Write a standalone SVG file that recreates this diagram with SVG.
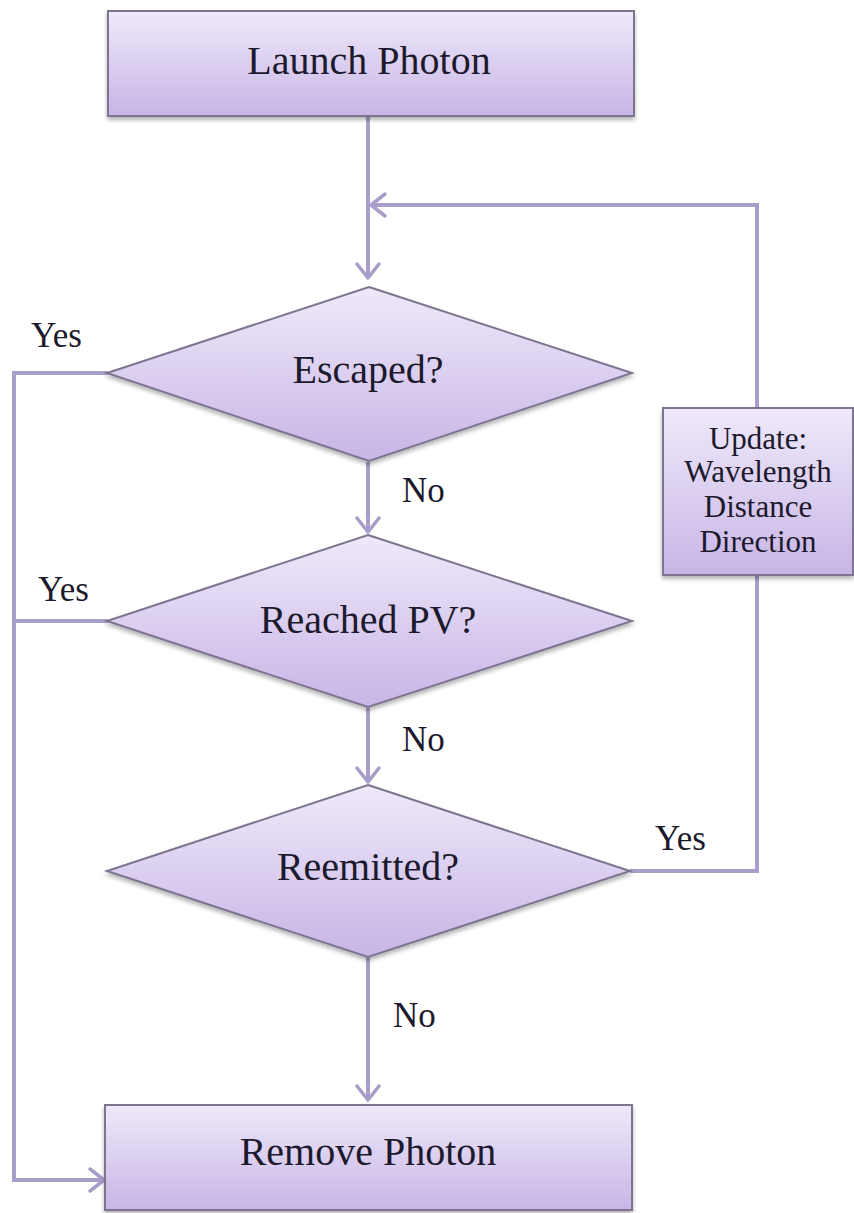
<svg xmlns="http://www.w3.org/2000/svg" width="854" height="1213" viewBox="0 0 854 1213">
<defs>
<linearGradient id="g" x1="0" y1="0" x2="0" y2="1">
<stop offset="0" stop-color="#efe9fa"/>
<stop offset="1" stop-color="#c8b5e6"/>
</linearGradient>
<filter id="sh" x="-5%" y="-5%" width="110%" height="115%">
<feGaussianBlur in="SourceAlpha" stdDeviation="2"/>
<feOffset dx="0" dy="3" result="b"/>
<feComponentTransfer><feFuncA type="linear" slope="0.3"/></feComponentTransfer>
<feMerge><feMergeNode/><feMergeNode in="SourceGraphic"/></feMerge>
</filter>
<marker id="ah" viewBox="0 0 16 24" refX="15" refY="12" markerWidth="16" markerHeight="24" markerUnits="userSpaceOnUse" orient="auto" overflow="visible">
<path d="M1,1 L15,12 L1,23" fill="none" stroke="#a99dc9" stroke-width="3.5" stroke-linecap="round" stroke-linejoin="round"/>
</marker>
</defs>
<style>
.n{fill:url(#g);stroke:#7d7490;stroke-width:2;filter:url(#sh)}
.c{fill:none;stroke:#a99dc9;stroke-width:4}
.t{font-family:"Liberation Serif",serif;font-size:40px;fill:#1c1a2c;text-anchor:middle}
.s{font-family:"Liberation Serif",serif;font-size:31px;fill:#1c1a2c;text-anchor:middle}
.l{font-family:"Liberation Serif",serif;font-size:35px;fill:#1c1a2c}
</style>
<g id="connectors">
<path class="c" d="M368,116 V278" marker-end="url(#ah)"/>
<path class="c" d="M757,408 V205 H371" marker-end="url(#ah)"/>
<path class="c" d="M368,462 V532" marker-end="url(#ah)"/>
<path class="c" d="M368,708 V782" marker-end="url(#ah)"/>
<path class="c" d="M368,957 V1100" marker-end="url(#ah)"/>
<path class="c" d="M630,871 H757 V575"/>
<path class="c" d="M108,373 H14 V1180 H104" marker-end="url(#ah)"/>
<path class="c" d="M108,621 H14"/>
</g>
<g id="launch">
<rect class="n" x="108" y="11" width="526" height="105"/>
<text class="t" x="369" y="74">Launch Photon</text>
</g>
<g id="escaped">
<polygon class="n" points="369,287 632,373 369,461 107,373"/>
<text class="t" x="368" y="383">Escaped?</text>
</g>
<g id="reached">
<polygon class="n" points="368,535 632,621 368,707 107,621"/>
<text class="t" x="368" y="633">Reached PV?</text>
</g>
<g id="reemitted">
<polygon class="n" points="368,785 630,871 368,957 107,871"/>
<text class="t" x="368" y="880">Reemitted?</text>
</g>
<g id="update">
<rect class="n" x="663" y="408" width="190" height="167"/>
<text class="s" x="758" y="449">Update:</text>
<text class="s" x="758" y="482">Wavelength</text>
<text class="s" x="758" y="517">Distance</text>
<text class="s" x="758" y="552">Direction</text>
</g>
<g id="remove">
<rect class="n" x="105" y="1105" width="527" height="105"/>
<text class="t" x="368" y="1165">Remove Photon</text>
</g>
<g id="labels">
<text class="l" x="31" y="347">Yes</text>
<text class="l" x="38" y="601">Yes</text>
<text class="l" x="402" y="502">No</text>
<text class="l" x="402" y="751">No</text>
<text class="l" x="393" y="1027">No</text>
<text class="l" x="655" y="850">Yes</text>
</g>
</svg>
